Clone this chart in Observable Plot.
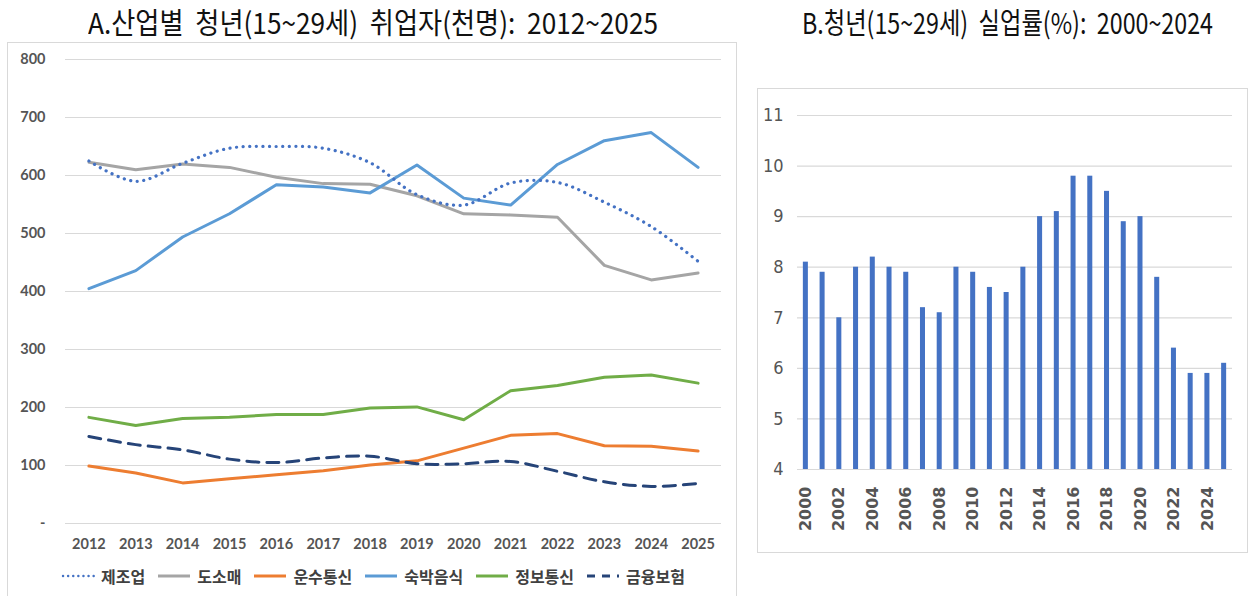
<!DOCTYPE html>
<html><head><meta charset="utf-8">
<script src="https://cdn.jsdelivr.net/npm/d3@7"></script>
<script src="https://cdn.jsdelivr.net/npm/@observablehq/plot@0.6"></script>
<style>
html,body{margin:0;padding:0;background:#fff}
body{width:1248px;height:596px;overflow:hidden;position:relative;font-family:"Noto Sans CJK KR","Noto Sans",sans-serif}
.title{position:absolute;top:1px;font-size:29px;color:#111;white-space:pre;font-family:"Noto Sans CJK KR",sans-serif;font-weight:400;line-height:40px;transform-origin:0 50%;display:inline-block}
#panelA{position:absolute;left:7px;top:42px;width:730px;height:570px;border:1px solid #d9d9d9;box-sizing:border-box}
#panelB{position:absolute;left:757px;top:88px;width:491px;height:465px;border:1px solid #d9d9d9;box-sizing:border-box}
#chartA{position:absolute;left:0;top:42px}
#chartB{position:absolute;left:757px;top:88px}
#legend{position:absolute;top:564px;left:0;width:746px;display:flex;justify-content:center;align-items:center;font-size:16px;font-weight:700;color:#404040;font-family:"Noto Sans CJK KR",sans-serif}
#legend .item{display:flex;align-items:center;margin:0 6px}
#legend svg{margin-right:6px}
</style></head>
<body>
<div id="panelA"></div>
<div id="panelB"></div>
<div class="title" id="titleA" style="left:88px">A.산업별  청년(15~29세)  취업자(천명):  2012~2025</div>
<div class="title" id="titleB" style="left:802px">B.청년(15~29세)  실업률(%):  2000~2024</div>
<div id="chartA"></div>
<div id="chartB"></div>
<div id="legend"></div>
<script>
// ---- Chart A data ----
const yearsA = [2012,2013,2014,2015,2016,2017,2018,2019,2020,2021,2022,2023,2024,2025];
const seriesNames = ["제조업","도소매","운수통신","숙박음식","정보통신","금융보험"];
const seriesColors = ["#4472C4","#A5A5A5","#ED7D31","#5B9BD5","#70AD47","#264478"];
const manufacturing = [625,590,621,647,650,647,622,567,549,587,588,554,512,452];
const wholesale     = [623,610,620,614,597,586,585,565,534,532,528,445,420,432];
const transport     = [99,87,70,77,84,91,101,108,130,152,155,134,133,125];
const foodLodging   = [405,436,494,534,584,580,570,618,561,549,619,660,674,614];
const infoComm      = [183,169,181,183,188,188,199,201,179,229,238,252,256,242];
const finance       = [150,136,127,111,105,113,116,103,103,107,90,72,64,69];
const yTicksA = [0,100,200,300,400,500,600,700,800];

// ---- Chart B data ----
const yearsB = [2000,2001,2002,2003,2004,2005,2006,2007,2008,2009,2010,2011,2012,2013,2014,2015,2016,2017,2018,2019,2020,2021,2022,2023,2024,2025];
const unemployment = [8.1,7.9,7.0,8.0,8.2,8.0,7.9,7.2,7.1,8.0,7.9,7.6,7.5,8.0,9.0,9.1,9.8,9.8,9.5,8.9,9.0,7.8,6.4,5.9,5.9,6.1];
const yTicksB = [4,5,6,7,8,9,10,11];
const xLabelsB = [2000,2002,2004,2006,2008,2010,2012,2014,2016,2018,2020,2022,2024];

// fit titles to the reference widths
function fitTitle(id, target) {
  const el = document.getElementById(id);
  const w = el.getBoundingClientRect().width;
  el.style.transform = `scaleX(${target / w})`;
}
fitTitle("titleA", 570);
fitTitle("titleB", 411);

const allSeries = [manufacturing, wholesale, transport, foodLodging, infoComm, finance];
const styles = {
  "제조업": {strokeDasharray:"0.1 6.5", strokeLinecap:"round", strokeWidth:3.2, curve:"catmull-rom"},
  "도소매": {strokeWidth:3},
  "운수통신": {strokeWidth:3},
  "숙박음식": {strokeWidth:3},
  "정보통신": {strokeWidth:3},
  "금융보험": {strokeDasharray:"12 8", strokeWidth:3, curve:"catmull-rom"}
};
const drawOrder = ["정보통신","운수통신","금융보험","도소매","숙박음식","제조업"];

const lineMarks = drawOrder.map(name => {
  const i = seriesNames.indexOf(name);
  const data = yearsA.map((y, j) => ({year: y, value: allSeries[i][j]}));
  return Plot.line(data, {x:"year", y:"value", stroke: seriesColors[i], strokeLinejoin:"round", ...styles[name]});
});

const axisFont = "Lato, 'Open Sans', sans-serif";
const chartA = Plot.plot({
  width: 737, height: 515,
  marginLeft: 65, marginRight: 16, marginTop: 17, marginBottom: 34,
  style: {fontFamily: axisFont, background:"transparent"},
  x: {type:"point", domain: yearsA, padding: 0.5, round:false},
  y: {domain:[0,800]},
  marks: [
    Plot.gridY(yTicksA, {stroke:"#d9d9d9", strokeOpacity:1, strokeWidth:1.2}),
    Plot.axisY(yTicksA, {tickSize:0, tickPadding:20, label:null, fontSize:14.5, fontWeight:700, fill:"#555", tickFormat: d => d === 0 ? "-" : String(d)}),
    Plot.axisX(yearsA, {tickSize:0, tickPadding:15, label:null, fontSize:14.5, fontWeight:700, fill:"#555", tickFormat: d => String(d)}),
    ...lineMarks
  ]
});
document.getElementById("chartA").appendChild(chartA);

const dataB = yearsB.map((y, i) => ({year: y, value: unemployment[i]}));
const chartB = Plot.plot({
  width: 490, height: 465,
  marginLeft: 40, marginRight: 15, marginTop: 27, marginBottom: 84,
  style: {fontFamily: axisFont, background:"transparent"},
  x: {type:"band", domain: yearsB, paddingInner: 0.7, paddingOuter: 0.35, round:false},
  y: {domain:[4,11], clamp:true},
  marks: [
    Plot.gridY(yTicksB, {stroke:"#d9d9d9", strokeOpacity:1, strokeWidth:1.2}),
    Plot.barY(dataB, {x:"year", y:"value", fill:"#4472C4"}),
    Plot.axisY(yTicksB, {tickSize:0, tickPadding:14, label:null, fontSize:18, fill:"#555", fontFamily:"'Liberation Sans Narrow','DejaVu Sans Condensed',sans-serif", tickFormat: d => String(d)}),
    Plot.axisX(xLabelsB, {tickSize:0, tickPadding:17, tickRotate:-90, label:null, fontSize:16, fontWeight:700, fill:"#555", fontFamily:"'DejaVu Sans',sans-serif", tickFormat: d => String(d)})
  ]
});
document.getElementById("chartB").appendChild(chartB);

// ---- Legend ----
const legend = document.getElementById("legend");
seriesNames.forEach((name, i) => {
  const st = styles[name];
  const item = document.createElement("div");
  item.className = "item";
  const dash = st.strokeDasharray ? `stroke-dasharray="${name==="제조업" ? "0.1 5" : "8 7"}"` : "";
  const cap = name === "제조업" ? 'stroke-linecap="round"' : "";
  item.innerHTML = `<svg width="34" height="10"><line x1="${name==="제조업"?2:1}" y1="5" x2="33" y2="5" stroke="${seriesColors[i]}" stroke-width="${name==="제조업"?2.4:3}" ${dash} ${cap}/></svg><span>${name}</span>`;
  legend.appendChild(item);
});
</script>
</body></html>
